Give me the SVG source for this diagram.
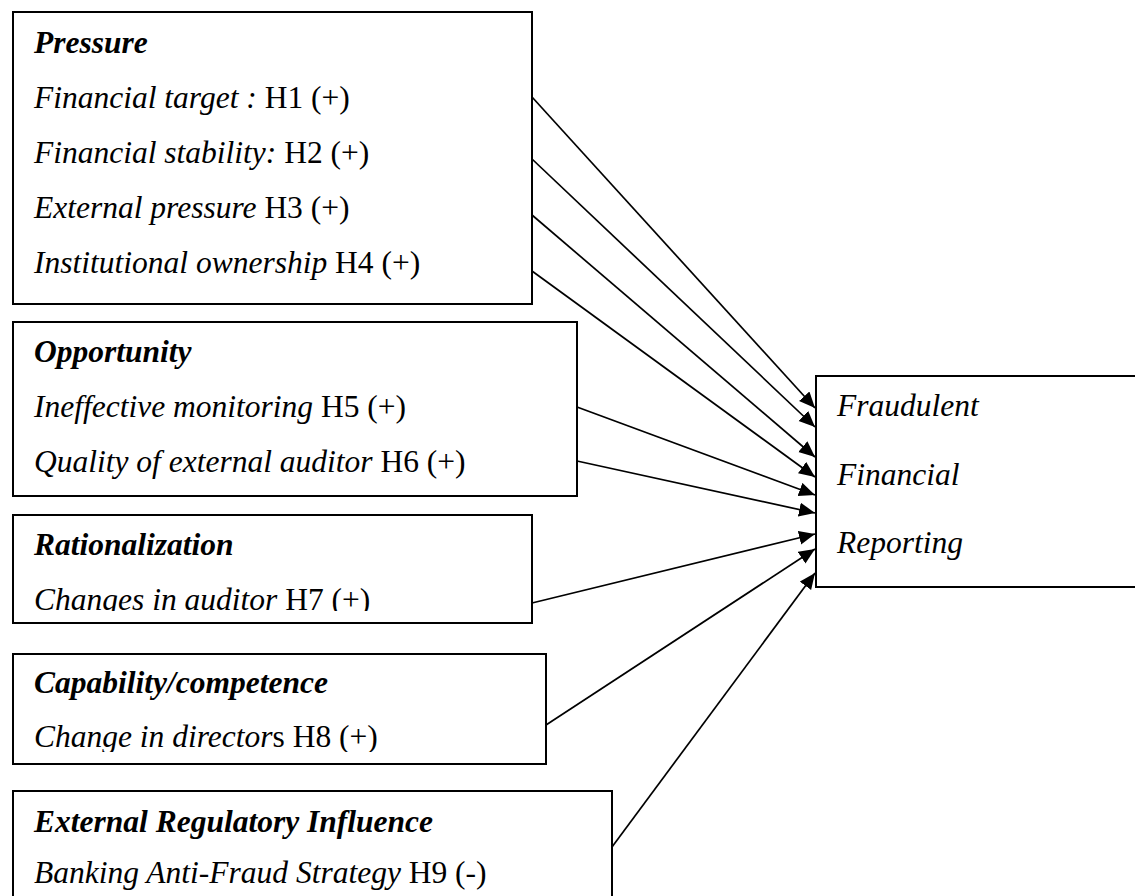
<svg xmlns="http://www.w3.org/2000/svg" width="1135" height="896" viewBox="0 0 1135 896">
<style>
.box{fill:#fff;stroke:#000;stroke-width:2}
.h{font-weight:bold;font-style:italic}
.i{font-style:italic}
.n{font-style:normal}
.conn line{stroke:#000;stroke-width:1.7}
</style>
<defs>
<marker id="arr" markerUnits="userSpaceOnUse" markerWidth="17" markerHeight="15" refX="16" refY="7" orient="auto">
<path d="M0,0 L16,7 L0,14 z" fill="#000"/>
</marker>
<clipPath id="c3"><rect x="0" y="515" width="600" height="96"/></clipPath>
<clipPath id="c4"><rect x="0" y="654" width="600" height="98"/></clipPath>
</defs>
<g font-family="'Liberation Serif', 'Times New Roman', serif" font-size="31.5" fill="#000">
<g id="pressure">
<rect class="box" x="13" y="12" width="519" height="292"/>
<text x="34" y="53" class="h">Pressure</text>
<text x="34" y="108" class="i">Financial target : <tspan class="n">H1 (+)</tspan></text>
<text x="34" y="163" class="i">Financial stability: <tspan class="n">H2 (+)</tspan></text>
<text x="34" y="218" class="i">External pressure <tspan class="n">H3 (+)</tspan></text>
<text x="34" y="273" class="i">Institutional ownership <tspan class="n">H4 (+)</tspan></text>
</g>
<g id="opportunity">
<rect class="box" x="13" y="322" width="564" height="174"/>
<text x="34" y="362" class="h">Opportunity</text>
<text x="34" y="417" class="i">Ineffective monitoring <tspan class="n">H5 (+)</tspan></text>
<text x="34" y="472" class="i">Quality of external auditor <tspan class="n">H6 (+)</tspan></text>
</g>
<g id="rationalization">
<rect class="box" x="13" y="515" width="519" height="108"/>
<text x="34" y="555" class="h">Rationalization</text>
<text x="34" y="610" class="i" clip-path="url(#c3)">Changes in auditor <tspan class="n">H7 (+)</tspan></text>
</g>
<g id="capability">
<rect class="box" x="13" y="654" width="533" height="110"/>
<text x="34" y="693" class="h">Capability/competence</text>
<text x="34" y="747" class="i" clip-path="url(#c4)">Change in director<tspan class="n">s H8 (+)</tspan></text>
</g>
<g id="external">
<rect class="box" x="13" y="791" width="599" height="130"/>
<text x="34" y="832" class="h">External Regulatory Influence</text>
<text x="34" y="883" class="i">Banking Anti-Fraud Strategy <tspan class="n">H9 (-)</tspan></text>
</g>
<g id="ffr">
<rect class="box" x="816" y="376" width="340" height="211"/>
<text x="837" y="416" class="i">Fraudulent</text>
<text x="837" y="485" class="i">Financial</text>
<text x="837" y="553" class="i">Reporting</text>
</g>
</g>
<g id="connectors" class="conn">
<line x1="532" y1="97" x2="815" y2="408" marker-end="url(#arr)"/>
<line x1="532" y1="159" x2="815" y2="427" marker-end="url(#arr)"/>
<line x1="532" y1="215" x2="815" y2="457" marker-end="url(#arr)"/>
<line x1="532" y1="271" x2="815" y2="477" marker-end="url(#arr)"/>
<line x1="577" y1="407" x2="815" y2="495" marker-end="url(#arr)"/>
<line x1="577" y1="461" x2="815" y2="513" marker-end="url(#arr)"/>
<line x1="532" y1="603" x2="815" y2="534" marker-end="url(#arr)"/>
<line x1="546" y1="725" x2="815" y2="549" marker-end="url(#arr)"/>
<line x1="612" y1="847" x2="815" y2="573" marker-end="url(#arr)"/>
</g>
</svg>
